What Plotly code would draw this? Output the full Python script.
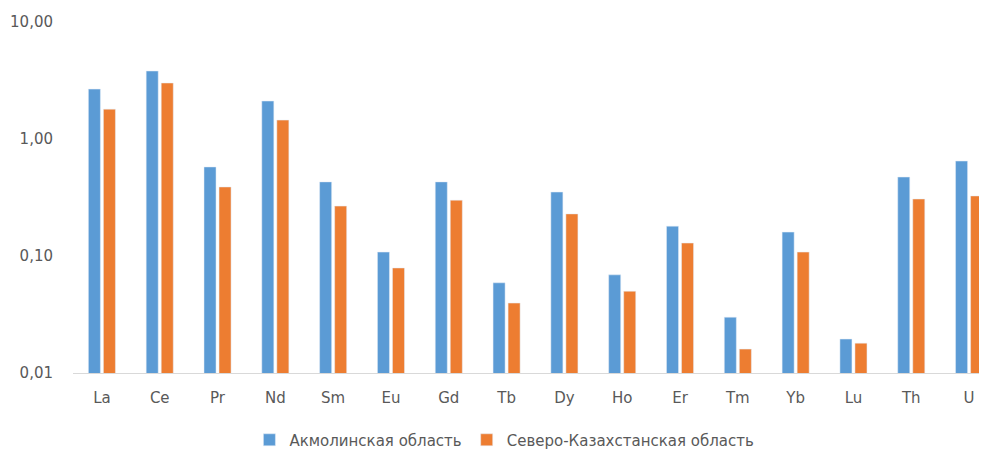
import plotly.graph_objects as go

elements = ["La", "Ce", "Pr", "Nd", "Sm", "Eu", "Gd", "Tb", "Dy", "Ho", "Er", "Tm", "Yb", "Lu", "Th", "U"]
akmola = [2.67, 3.81, 0.577, 2.11, 0.43, 0.108, 0.43, 0.059, 0.352, 0.069, 0.180, 0.030, 0.160, 0.0195, 0.473, 0.648]
sko = [1.80, 3.01, 0.389, 1.45, 0.267, 0.079, 0.30, 0.0396, 0.229, 0.050, 0.129, 0.016, 0.108, 0.018, 0.307, 0.326]
series_names = ["Акмолинская область", "Северо-Казахстанская область"]
y_tickvals = [0.01, 0.1, 1, 10]
y_ticktext = ["0,01", "0,10", "1,00", "10,00"]

fig = go.Figure()
fig.add_trace(go.Bar(x=elements, y=akmola, name=series_names[0], marker_color="#5B9BD5"))
fig.add_trace(go.Bar(x=elements, y=sko, name=series_names[1], marker_color="#ED7D31"))

FONT = "DejaVu Sans, sans-serif"
fig.update_layout(
    width=979, height=442,
    margin=dict(l=65, r=0, t=14, b=77, autoexpand=False),
    paper_bgcolor="white", plot_bgcolor="white",
    barmode="group", bargap=0.48, bargroupgap=0.2,
    font=dict(family=FONT, size=15, color="#595959"),
    showlegend=True,
    legend=dict(orientation="h", x=0.472, xanchor="center", y=-0.191, yanchor="middle",
                font=dict(family=FONT, size=15, color="#595959"), traceorder="normal",
                itemwidth=30),
)
fig.update_xaxes(type="category", range=[-0.5, 15.31], showline=True, linecolor="#d9d9d9", linewidth=1,
                 showgrid=False, ticks="", tickfont=dict(family=FONT, size=15, color="#595959"),
                 ticklabelstandoff=11, automargin=False)
fig.update_yaxes(type="log", range=[-2, 1], tickvals=y_tickvals, ticktext=y_ticktext, showgrid=False,
                 zeroline=False, showline=False, ticks="", tickfont=dict(family=FONT, size=15, color="#595959"),
                 ticklabelstandoff=19, automargin=False)

fig.write_html("out.html")
